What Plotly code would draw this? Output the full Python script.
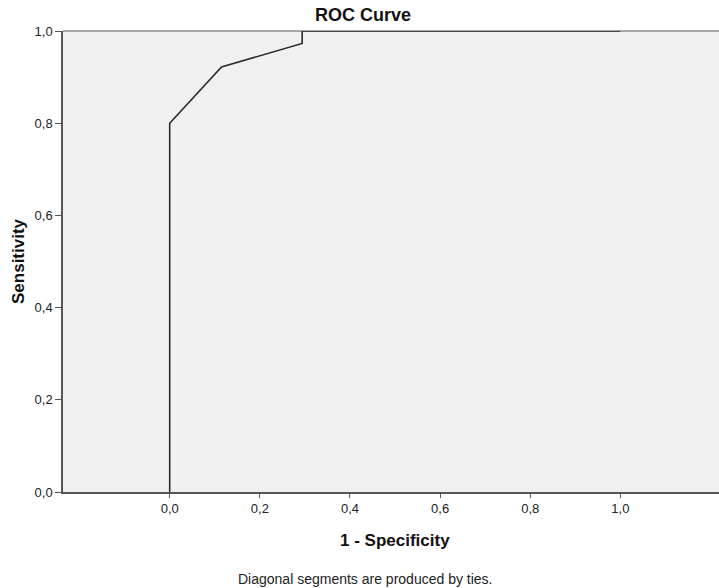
import plotly.graph_objects as go

# ROC curve points (1 - Specificity, Sensitivity)
fpr = [0.0, 0.0, 0.115, 0.294, 0.294, 1.0]
tpr = [0.0, 0.8, 0.922, 0.973, 1.0, 1.0]

x_ticks = [0.0, 0.2, 0.4, 0.6, 0.8, 1.0]
y_ticks = [0.0, 0.2, 0.4, 0.6, 0.8, 1.0]

title_text = "ROC Curve"
x_title = "1 - Specificity"
y_title = "Sensitivity"
footnote = "Diagonal segments are produced by ties."

FONT = "Liberation Sans, Arial, sans-serif"

W, H = 719, 588
ML, MR, MT, MB = 63, 0, 31, 96
PW = W - ML - MR
PH = H - MT - MB

fig = go.Figure()
fig.add_trace(go.Scatter(
    x=fpr, y=tpr, mode="lines",
    line=dict(color="#2b2b2b", width=1.6),
    hoverinfo="skip", showlegend=False,
))

fig.update_layout(
    width=W, height=H,
    margin=dict(l=ML, r=MR, t=MT, b=MB, pad=0),
    paper_bgcolor="white",
    plot_bgcolor="#f0f0f0",
    separators=",.",
    font=dict(family=FONT, size=13, color="#222"),
    showlegend=False,
    xaxis=dict(
        range=[-0.2368, 1.219],
        tickvals=x_ticks, tickformat=".1f",
        ticks="outside", ticklen=4, tickwidth=1.3, tickcolor="#555",
        showline=True, linecolor="#555", linewidth=1.5,
        showgrid=False, zeroline=False,
        tickfont=dict(family=FONT, size=13, color="#222"),
        fixedrange=True,
    ),
    yaxis=dict(
        range=[0, 1],
        tickvals=y_ticks, tickformat=".1f",
        ticks="outside", ticklen=6, tickwidth=1.3, tickcolor="#555",
        showline=True, linecolor="#555", linewidth=1.5,
        showgrid=False, zeroline=False,
        tickfont=dict(family=FONT, size=13, color="#222"),
        fixedrange=True,
    ),
    shapes=[dict(
        type="line", xref="paper", yref="paper",
        x0=0, x1=1, y0=1, y1=1,
        line=dict(color="#8c8c8c", width=1.5), layer="below",
    )],
    annotations=[
        dict(text="<b>%s</b>" % title_text, xref="paper", yref="paper",
             x=(363 - ML) / PW, y=1 + (MT - 15.5) / PH,
             xanchor="center", yanchor="middle", showarrow=False,
             font=dict(family=FONT, size=18, color="#111")),
        dict(text="<b>%s</b>" % x_title, xref="paper", yref="paper",
             x=(394.5 - ML) / PW, y=-(540 - (MT + PH)) / PH,
             xanchor="center", yanchor="middle", showarrow=False,
             font=dict(family=FONT, size=17, color="#111")),
        dict(text="<b>%s</b>" % y_title, xref="paper", yref="paper",
             x=(18.5 - ML) / PW, y=0.5, textangle=-90,
             xanchor="center", yanchor="middle", showarrow=False,
             font=dict(family=FONT, size=17, color="#111")),
        dict(text=footnote, xref="paper", yref="paper",
             x=(364.7 - ML) / PW, y=-(579 - (MT + PH)) / PH,
             xanchor="center", yanchor="middle", showarrow=False,
             font=dict(family=FONT, size=14, color="#222")),
    ],
)

fig.write_html("out.html")
